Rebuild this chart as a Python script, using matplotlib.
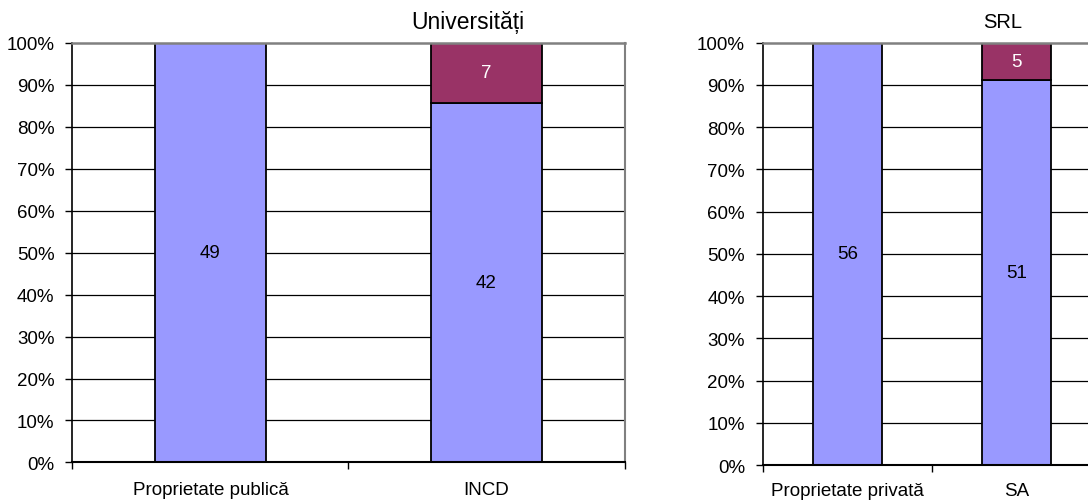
import matplotlib
matplotlib.use("Agg")
import matplotlib.pyplot as plt
from matplotlib.ticker import PercentFormatter, FixedLocator

plt.rcParams['font.family'] = ['Liberation Sans', 'DejaVu Sans']

# Public ownership panel
pub_categories = ["Proprietate publică", "INCD"]
pub_main = [49, 42]
pub_other = [0, 7]
pub_other_label = "Universități"

# Private ownership panel
priv_categories = ["Proprietate privată", "SA"]
priv_main = [56, 51]
priv_other = [0, 5]
priv_other_label = "SRL"

BLUE = "#9999FF"
MAROON = "#993366"
FS = 13.5

fig = plt.figure(figsize=(10.88, 5.02), dpi=100)
ax1 = fig.add_axes([0.0666, 0.0767, 0.5074, 0.8366])
ax2 = fig.add_axes([0.7013, 0.0717, 0.3107, 0.8416])


def draw_panel(ax, cats, main, other, width, label_pad):
    totals = [m + o for m, o in zip(main, other)]
    x = list(range(len(cats)))
    main_frac = [m / t for m, t in zip(main, totals)]
    other_frac = [o / t for o, t in zip(other, totals)]

    ax.set_xlim(-0.5, len(cats) - 0.5)
    ax.set_ylim(0, 1)

    # horizontal gridlines
    for g in [i / 10 for i in range(1, 10)]:
        ax.axhline(g, color="black", lw=0.9, zorder=1)

    b1 = ax.bar(x, main_frac, width=width, color=BLUE, edgecolor="black",
                linewidth=1.3, zorder=3)
    b2 = ax.bar(x, other_frac, width=width, bottom=main_frac, color=MAROON,
                edgecolor="black", linewidth=1.3, zorder=3)

    for rect, v in zip(b1, main):
        if v:
            ax.text(rect.get_x() + rect.get_width() / 2,
                    rect.get_y() + rect.get_height() / 2, str(v),
                    ha="center", va="center", fontsize=FS, color="black",
                    zorder=4)
    for rect, v in zip(b2, other):
        if v:
            ax.text(rect.get_x() + rect.get_width() / 2,
                    rect.get_y() + rect.get_height() / 2, str(v),
                    ha="center", va="center", fontsize=FS, color="white",
                    zorder=4)

    # frame: black left/bottom axes, grey plot-area border
    ax.spines["left"].set_color("black")
    ax.spines["bottom"].set_color("black")
    ax.spines["left"].set_linewidth(1.2)
    ax.spines["bottom"].set_linewidth(1.5)
    ax.spines["top"].set_color("#808080")
    ax.spines["right"].set_color("#808080")
    ax.spines["top"].set_linewidth(1.8)
    ax.spines["right"].set_linewidth(1.5)
    for s in ax.spines.values():
        s.set_zorder(5)

    ax.yaxis.set_major_locator(FixedLocator([i / 10 for i in range(11)]))
    ax.yaxis.set_major_formatter(PercentFormatter(1.0, decimals=0))
    ax.tick_params(axis="y", direction="out", length=5, width=1,
                   labelsize=FS, pad=8)

    ax.xaxis.set_major_locator(FixedLocator([i - 0.5 for i in range(len(cats) + 1)]))
    ax.xaxis.set_major_formatter(plt.NullFormatter())
    ax.xaxis.set_minor_locator(FixedLocator(x))
    ax.set_xticklabels(cats, minor=True)
    ax.tick_params(axis="x", which="major", direction="out", length=5, width=1)
    ax.tick_params(axis="x", which="minor", length=0, labelsize=FS,
                   pad=label_pad)


draw_panel(ax1, pub_categories, pub_main, pub_other, 0.4, 13.5)
draw_panel(ax2, priv_categories, priv_main, priv_other, 0.41, 12)

fig.text(0.430, 0.955, pub_other_label, ha="center", va="center", fontsize=16.5)
fig.text(0.922, 0.955, priv_other_label, ha="center", va="center", fontsize=14.5)

fig.savefig("out.png", dpi=100)
